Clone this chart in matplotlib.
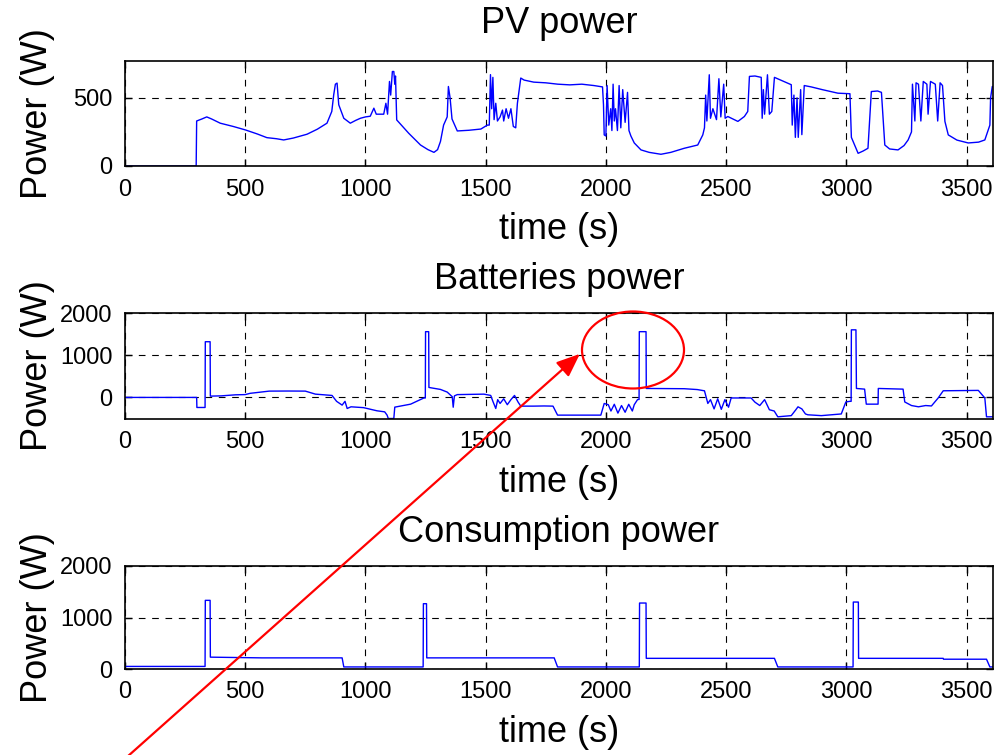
import matplotlib
matplotlib.use("Agg")
import matplotlib.pyplot as plt
from matplotlib.patches import Ellipse, FancyArrowPatch

plt.rcParams['font.family'] = ['Liberation Sans', 'DejaVu Sans']

# ---------------- data ----------------
pv_t = [0, 296, 298, 320, 340, 360, 396, 450, 500, 550, 590, 630, 660, 700, 757, 800, 840, 860,
        868, 875, 882, 889, 910, 937, 960, 979, 1000, 1020, 1035, 1045, 1076, 1085, 1092, 1100,
        1105, 1112, 1118, 1122, 1125, 1130, 1180, 1229, 1260, 1285, 1300, 1312, 1325, 1340, 1345,
        1352, 1360, 1382, 1430, 1480, 1507, 1515, 1520, 1525, 1530, 1535, 1542, 1549, 1560, 1570,
        1575, 1585, 1595, 1605, 1615, 1625, 1632, 1646, 1660, 1700, 1750, 1800, 1850, 1900, 1950,
        1986, 1990, 1993, 2000, 2005, 2012, 2020, 2025, 2030, 2035, 2040, 2048, 2055, 2062, 2070,
        2080, 2090, 2096, 2104, 2118, 2146, 2180, 2229, 2270, 2326, 2382, 2403, 2410, 2415, 2420,
        2430, 2435, 2445, 2460, 2470, 2478, 2490, 2496, 2507, 2549, 2576, 2590, 2597, 2620, 2646,
        2650, 2655, 2660, 2672, 2680, 2690, 2701, 2740, 2771, 2775, 2782, 2788, 2795, 2800, 2810,
        2815, 2825, 2854, 2900, 2965, 3015, 3021, 3049, 3070, 3090, 3104, 3130, 3146, 3160, 3180,
        3215, 3240, 3257, 3271, 3275, 3285, 3290, 3300, 3310, 3320, 3335, 3340, 3350, 3370, 3380,
        3390, 3400, 3410, 3424, 3460, 3507, 3550, 3576, 3597, 3600, 3607, 3610]
pv_v = [0, 0, 330, 345, 360, 345, 314, 290, 265, 235, 208, 200, 191, 205, 233, 270, 314, 400,
        522, 600, 608, 449, 350, 314, 335, 350, 360, 365, 424, 380, 380, 460, 380, 620,
        520, 693, 693, 600, 660, 338, 240, 154, 120, 100, 120, 180, 300, 360, 583,
        500, 345, 257, 262, 271, 300, 300, 670, 420, 650, 340, 460, 330, 360, 410,
        330, 420, 350, 420, 290, 280, 460, 645, 630, 615, 610, 600, 595, 600, 590,
        580, 450, 228, 220, 590, 300, 420, 260, 600, 330, 420, 260, 590, 280, 560,
        320, 540, 260, 220, 169, 118, 100, 86, 100, 130, 154, 228, 280, 520, 330,
        669, 350, 420, 340, 640, 360, 600, 350, 363, 327, 363, 400, 657, 660, 650,
        350, 560, 380, 669, 380, 400, 650, 620, 596, 300, 520, 210, 500, 210, 560,
        230, 590, 580, 560, 534, 530, 210, 93, 110, 130, 546, 550, 540, 154, 125,
        118, 150, 191, 250, 600, 330, 610, 600, 330, 620, 600, 380, 620, 600, 330,
        610, 590, 327, 228, 190, 169, 175, 191, 300, 500, 583, 583]

bat_t = [0, 298, 299, 333, 334, 354, 355, 400, 460, 500, 520, 600, 680, 750, 792, 861, 880, 903,
         915, 924, 940, 992, 1048, 1080, 1090, 1095, 1118, 1122, 1188, 1243, 1249, 1250, 1263,
         1264, 1312, 1340, 1361, 1365, 1370, 1382, 1493, 1521, 1530, 1542, 1550, 1560, 1575,
         1590, 1605, 1620, 1635, 1646, 1700, 1743, 1780, 1799, 1979, 1993, 2010, 2021, 2035,
         2050, 2065, 2080, 2095, 2110, 2118, 2132, 2138, 2139, 2167, 2168, 2326, 2380, 2410,
         2424, 2435, 2450, 2465, 2480, 2495, 2510, 2521, 2604, 2620, 2640, 2660, 2680, 2700,
         2715, 2771, 2790, 2799, 2815, 2830, 2840, 2896, 2979, 2998, 3014, 3020, 3021, 3040,
         3042, 3076, 3083, 3132, 3133, 3236, 3243, 3271, 3300, 3330, 3354, 3382, 3403, 3549,
         3576, 3583, 3610]
bat_v = [-7, -7, -246, -246, 1317, 1317, 24, 30, 55, 60, 90, 143, 145, 143, 71, 40, -100, -190,
         -100, -270, -230, -250, -325, -350, -428, -508, -508, -238, -167, -20, -20, 1556, 1556,
         230, 183, 120, 10, -240, 30, 60, 71, 40, -100, -270, -60, -150, -40,
         -180, -60, 40, -120, -214, -214, -210, -214, -428, -428, -151, -180, -330, -170,
         -380, -200, -360, -170, -330, -180, -56, -56, 1556, 1556, 206, 200, 180, 150,
         -150, -60, -280, -40, -290, -60, -240, -20, -20, -120, -200, -60, -300, -330,
         -468, -440, -300, -230, -280, -400, -420, -440, -400, -115, -100, -100, 1600, 1600,
         206, 190, -167, -167, 206, 190, -115, -200, -230, -200, -210, -20, 151, 160,
         -20, -468, -468]

load_t = [0, 333, 334, 354, 355, 569, 903, 910, 1240, 1241, 1254, 1255, 1785, 1799, 2139, 2140,
          2167, 2168, 2701, 2715, 3028, 3029, 3050, 3051, 3403, 3404, 3583, 3597, 3610]
load_v = [50, 50, 1333, 1333, 230, 216, 216, 40, 40, 1268, 1268, 216, 216, 40, 40, 1281,
          1281, 207, 207, 40, 40, 1300, 1300, 207, 207, 190, 190, 40, 40]

titles = ["PV power", "Batteries power", "Consumption power"]
xticks = [0, 500, 1000, 1500, 2000, 2500, 3000, 3500]
yticks_pv = [0, 500]
yticks_bat = [0, 1000, 2000]
yticks_load = [0, 1000, 2000]

# ---------------- figure ----------------
W, H = 1000, 755
fig = plt.figure(figsize=(W / 100, H / 100), dpi=100)

def px_axes(left, top, right, bottom):
    return fig.add_axes([left / W, 1 - bottom / H, (right - left) / W, (bottom - top) / H])

ax1 = px_axes(125, 61, 993, 166)
ax2 = px_axes(125, 313, 993, 419)
ax3 = px_axes(125, 566, 993, 669)

specs = [
    (ax1, pv_t, pv_v, (0, 770), yticks_pv, 20),
    (ax2, bat_t, bat_v, (-520, 2000), yticks_bat, 17),
    (ax3, load_t, load_v, (0, 2000), yticks_load, 17),
]

for (ax, t, v, ylim, yt, tpad), title in zip(specs, titles):
    ax.plot(t, v, color='#0000ff', lw=1.0)
    ax.set_xlim(0, 3610)
    ax.set_ylim(*ylim)
    ax.set_xticks(xticks)
    ax.set_yticks(yt)
    ax.tick_params(direction='in', top=True, right=True, labelsize=17, length=5,
                   width=1, pad=9)
    ax.grid(True, color='k', linestyle=(0, (6, 6)), linewidth=0.8)
    for s in ax.spines.values():
        s.set_linewidth(1.2)
    ax.set_title(title, fontsize=26, pad=tpad)
    ax.set_xlabel("time (s)", fontsize=26, labelpad=8)
    ax.set_ylabel("Power (W)", fontsize=26)
    ax.yaxis.set_label_coords(-0.081, 0.5)

# ---------------- red annotation ----------------
def fpx(x, y):
    return (x / W, 1 - y / H)

ell = Ellipse(fpx(633, 350), 102 / W, 77 / H, transform=fig.transFigure,
              fill=False, edgecolor='red', lw=1.6, zorder=10)
fig.add_artist(ell)

arrow = FancyArrowPatch(fpx(118, 765), fpx(582, 352), transform=fig.transFigure,
                        arrowstyle='-|>,head_length=11,head_width=4.5', mutation_scale=1.3,
                        color='red', lw=1.6, zorder=10)
fig.add_artist(arrow)

fig.savefig("out.png", dpi=100)
